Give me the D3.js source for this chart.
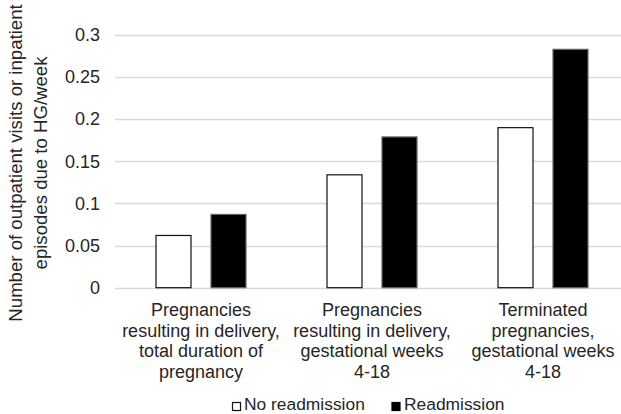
<!DOCTYPE html>
<html><head><meta charset="utf-8">
<script src="https://cdn.jsdelivr.net/npm/d3@7"></script>
<style>body{margin:0;background:#fff}svg{display:block}text{font-family:"Liberation Sans",Arial,sans-serif;fill:#262626}</style>
</head><body><svg id="c" width="621" height="414"></svg>
<script>
const categories = [
  ["Pregnancies","resulting in delivery,","total duration of","pregnancy"],
  ["Pregnancies","resulting in delivery,","gestational weeks","4-18"],
  ["Terminated","pregnancies,","gestational weeks","4-18"]
];
const seriesNames = ["No readmission","Readmission"];
const noReadmission = [0.062, 0.134, 0.190];
const readmission = [0.087, 0.179, 0.283];
const yTicks = [0, 0.05, 0.1, 0.15, 0.2, 0.25, 0.3];
const yTickLabels = ["0","0.05","0.1","0.15","0.2","0.25","0.3"];
const yTitle = ["Number of outpatient visits or inpatient","episodes due to HG/week"];

(function(){
const svg = d3.select("#c");
const pL = 115.5, pR = 628.5, pT = 35, pB = 287.7;
const x = d3.scaleBand().domain(d3.range(categories.length)).range([pL, pR]);
const y = d3.scaleLinear().domain([0, 0.3]).range([pB, pT]);
const fs = 18;

// gridlines
svg.append("g").selectAll("line").data(yTicks).join("line")
  .attr("x1", 115).attr("x2", 621)
  .attr("y1", d => Math.round(y(d)) + 0.5).attr("y2", d => Math.round(y(d)) + 0.5)
  .attr("stroke", "#d9d9d9").attr("stroke-width", 1.3);

// y axis labels
const yAxis = d3.axisLeft(y).tickValues(yTicks).tickFormat((d,i) => yTickLabels[i]).tickSize(0).tickPadding(0);
const ga = svg.append("g").attr("transform", `translate(100,0)`).call(yAxis);
ga.select(".domain").remove();
ga.selectAll("text").style("font-size", fs + "px").attr("fill", "#262626").attr("font-family", '"Liberation Sans",Arial,sans-serif');

// bars
const bw = 35, gap = 20;
const series = [noReadmission, readmission];
series.forEach((vals, si) => {
  svg.append("g").selectAll("rect").data(vals).join("rect")
    .attr("x", (d,i) => x(i) + x.bandwidth()/2 - bw - gap/2 + si*(bw+gap))
    .attr("width", bw)
    .attr("y", d => y(d))
    .attr("height", d => pB - y(d))
    .attr("fill", si === 0 ? "#ffffff" : "#000000")
    .attr("stroke", si === 0 ? "#111" : "#666")
    .attr("stroke-width", 1.2);
});

// x labels
const lh = 20.7;
categories.forEach((lines, i) => {
  const t = svg.append("text").attr("text-anchor", "middle").style("font-size", fs + "px")
    .attr("x", x(i) + x.bandwidth()/2).attr("y", 316);
  lines.forEach((l, j) => t.append("tspan").attr("x", x(i) + x.bandwidth()/2).attr("dy", j === 0 ? 0 : lh).text(l));
});

// y title
const yt = svg.append("text").attr("text-anchor", "middle").style("font-size", "18.6px")
  .attr("transform", "translate(0,163) rotate(-90)");
yTitle.forEach((l, j) => yt.append("tspan").attr("x", 0).attr("y", 22 + j*24.5).text(l));

// legend
const lg = svg.append("g");
const items = [{x:232.5, tx:244, fill:"#fff", stroke:"#111"}, {x:392, tx:404, fill:"#000", stroke:"#000"}];
items.forEach((it, i) => {
  lg.append("rect").attr("x", it.x).attr("y", 402.5).attr("width", 8).attr("height", 8)
    .attr("fill", it.fill).attr("stroke", it.stroke).attr("stroke-width", 1.2);
  lg.append("text").attr("x", it.tx).attr("y", 410.3).style("font-size", "17.4px").text(seriesNames[i]);
});
})();
</script></body></html>
